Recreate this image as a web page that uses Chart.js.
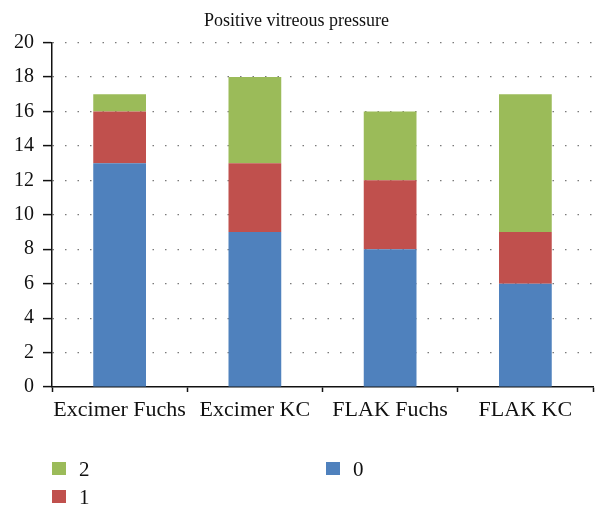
<!DOCTYPE html>
<html>
<head>
<meta charset="utf-8">
<script src="https://cdn.jsdelivr.net/npm/chart.js@4.4.1/dist/chart.umd.min.js"></script>
<style>
  html, body { margin: 0; padding: 0; background: #fff; }
  #wrap { position: relative; width: 608px; height: 516px; }
  canvas { display: block; }
  .lg { position: absolute; font-family: "Liberation Serif", serif; font-size: 21px; color: #111; line-height: 20px; }
  .lg span.sw { position: absolute; width: 14px; height: 13px; left: 0; top: 3px; }
  .lg span.tx { position: absolute; left: 27px; top: 0; white-space: nowrap; }
</style>
</head>
<body>
<div id="wrap">
  <canvas id="c" width="608" height="516"></canvas>
  <div id="legend"></div>
</div>
<script>
const categories = ["Excimer Fuchs", "Excimer KC", "FLAK Fuchs", "FLAK KC"];
const series0 = [13, 9, 8, 6];
const series1 = [3, 4, 4, 3];
const series2 = [1, 5, 4, 8];
const seriesLabels = ["0", "1", "2"];
const yTicks = [0, 2, 4, 6, 8, 10, 12, 14, 16, 18, 20];
const colors = ["#4F81BD", "#C0504D", "#9BBB59"];

const FONT = "'Liberation Serif', 'Times New Roman', serif";

const chart = new Chart(document.getElementById('c'), {
  type: 'bar',
  data: {
    labels: categories,
    datasets: [
      { label: seriesLabels[0], data: series0, backgroundColor: colors[0] },
      { label: seriesLabels[1], data: series1, backgroundColor: colors[1] },
      { label: seriesLabels[2], data: series2, backgroundColor: colors[2] }
    ]
  },
  options: {
    responsive: false,
    animation: false,
    devicePixelRatio: 1,
    layout: { padding: { top: 0, right: 15, left: 0, bottom: 89 } },
    datasets: { bar: { categoryPercentage: 1.0, barPercentage: 0.39 } },
    plugins: {
      legend: { display: false },
      tooltip: { enabled: false },
      title: {
        display: true,
        text: 'Positive vitreous pressure',
        color: '#111',
        font: { family: FONT, size: 18, weight: 'normal' },
        padding: { top: 10, bottom: 11 }
      }
    },
    scales: {
      x: {
        stacked: true,
        afterFit: s => { s.height = 40; },
        grid: { display: true, offset: true, drawOnChartArea: false, drawTicks: true, tickLength: 5, tickColor: '#111', tickWidth: 1.5 },
        border: { display: true, color: '#111', width: 1.5 },
        ticks: { color: '#111', font: { family: FONT, size: 22 }, padding: 5, maxRotation: 0, autoSkip: false }
      },
      y: {
        stacked: true,
        min: 0,
        max: 20,
        afterFit: s => { s.width = 52; },
        afterBuildTicks: s => { s.ticks = yTicks.map(v => ({ value: v })); },
        grid: {
          display: true,
          color: ctx => ctx.tick && ctx.tick.value === 0 ? 'rgba(0,0,0,0)' : '#7a7a7a',
          lineWidth: 1.2,
          drawTicks: true,
          tickLength: 9,
          tickColor: '#111',
          tickWidth: 1.5,
          tickBorderDash: []
        },
        border: { display: true, color: '#111', width: 1.5, dash: [1.5, 11] },
        ticks: { color: '#111', font: { family: FONT, size: 20 }, padding: 9 }
      }
    }
  }
});

// HTML legend in two columns, matching the reference layout
const legendItems = [
  { idx: 2, left: 52, top: 459 },
  { idx: 1, left: 52, top: 487 },
  { idx: 0, left: 326, top: 459 }
];
const lg = document.getElementById('legend');
legendItems.forEach(it => {
  const d = document.createElement('div');
  d.className = 'lg';
  d.style.left = it.left + 'px';
  d.style.top = it.top + 'px';
  d.innerHTML = '<span class="sw" style="background:' + colors[it.idx] + '"></span><span class="tx">' + seriesLabels[it.idx] + '</span>';
  lg.appendChild(d);
});
</script>
</body>
</html>
